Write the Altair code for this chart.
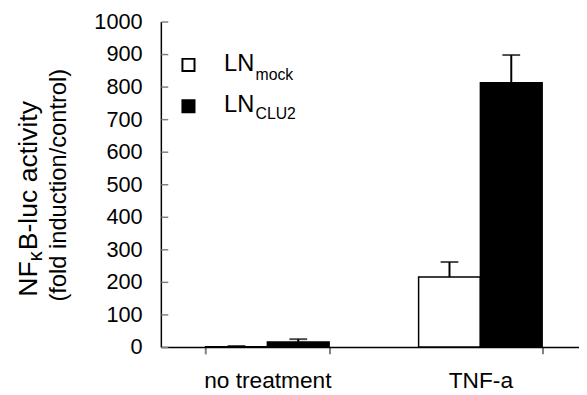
import altair as alt
import pandas as pd

categories = ["no treatment", "TNF-a"]
series = ["LN mock", "LN CLU2"]
mock_values = [1, 215]
mock_errors = [2, 46]
clu2_values = [15, 812]
clu2_errors = [9, 85]
y_ticks = [0, 100, 200, 300, 400, 500, 600, 700, 800, 900, 1000]

rows = []
for i, c in enumerate(categories):
    rows.append({"category": c, "series": series[0], "value": mock_values[i], "err": mock_errors[i]})
    rows.append({"category": c, "series": series[1], "value": clu2_values[i], "err": clu2_errors[i]})
df = pd.DataFrame(rows)

W, H = 432, 330
FONT = "Liberation Sans"
GREY = "#808080"

x_enc = alt.X(
    "category:N", sort=categories,
    scale=alt.Scale(paddingInner=0.42, paddingOuter=0.21),
    axis=alt.Axis(title=None, labelAngle=0, labelFontSize=23, labelColor="black", labelFont=FONT,
                  labelPadding=16, tickBand="extent", tickSize=7, tickWidth=2, tickColor=GREY,
                  domainColor="black", domainWidth=1.5),
)
xoff = alt.XOffset("series:N", sort=series, scale=alt.Scale(paddingInner=0, paddingOuter=0))
y_scale = alt.Scale(domain=[0, 1000], nice=False)

base = alt.Chart(df)

bars = base.mark_bar(stroke="black", strokeWidth=1.5).encode(
    x=x_enc, xOffset=xoff,
    y=alt.Y("value:Q", scale=y_scale,
            axis=alt.Axis(title=None, values=y_ticks, format="d", ticks=False, tickSize=0,
                          labelFontSize=22, labelPadding=19, labelFont=FONT, labelColor="black",
                          domainColor="black", domainWidth=1.5, grid=False)),
    fill=alt.Fill("series:N", scale=alt.Scale(domain=series, range=["white", "black"]), legend=None),
)

err_base = base.transform_calculate(top="datum.value + datum.err")

rules = err_base.mark_rule(color="black", strokeWidth=2).encode(
    x=alt.X("category:N", sort=categories), xOffset=xoff,
    y=alt.Y("value:Q", scale=y_scale,
            axis=alt.Axis(orient="right", offset=-W, labels=False, domain=False, ticks=True,
                          tickSize=7, tickWidth=1.5, tickColor=GREY, values=y_ticks, grid=False,
                          title=None)),
    y2="top:Q",
)

caps = err_base.mark_tick(color="black", thickness=2, size=18).encode(
    x=alt.X("category:N", sort=categories), xOffset=xoff,
    y=alt.Y("top:Q", scale=y_scale, axis=None),
)

def txt(s, x, y, size, angle=0, align="left", baseline="alphabetic"):
    kw = dict(font=FONT, fontSize=size, color="black", align=align, baseline=baseline)
    if angle:
        kw["angle"] = angle
    return alt.Chart(pd.DataFrame({"t": [s]})).mark_text(**kw).encode(
        text="t:N", x=alt.value(x), y=alt.value(y))

def sq(fill, y):
    return alt.Chart(pd.DataFrame({"s": [fill]})).mark_square(
        size=150, fill=fill, stroke="black", strokeWidth=2, opacity=1).encode(
        x=alt.value(28), y=alt.value(y))

legend = [
    sq("white", 44), sq("black", 86),
    txt("LN", 64, 50, 24), txt("mock", 96, 59, 16),
    txt("LN", 64, 92, 24), txt("CLU2", 96, 99, 16),
]

title = [
    txt("NF", -126, 279, 27, angle=270),
    txt("\u03ba", -121, 243, 20, angle=270),
    txt("B-luc activity", -126, 232, 27, angle=270),
    txt("(fold induction/control)", -96, 166, 24, angle=270, align="center"),
]

chart = alt.layer(bars, rules, caps, *legend, *title).resolve_axis(y="independent").properties(
    width=W, height=H,
    autosize=alt.AutoSizeParams(type="none"),
    padding={"left": 155, "top": 11, "right": -8, "bottom": 46},
).configure_view(stroke=None)

chart.save("out.html", embed_options={"renderer": "svg", "actions": False})
